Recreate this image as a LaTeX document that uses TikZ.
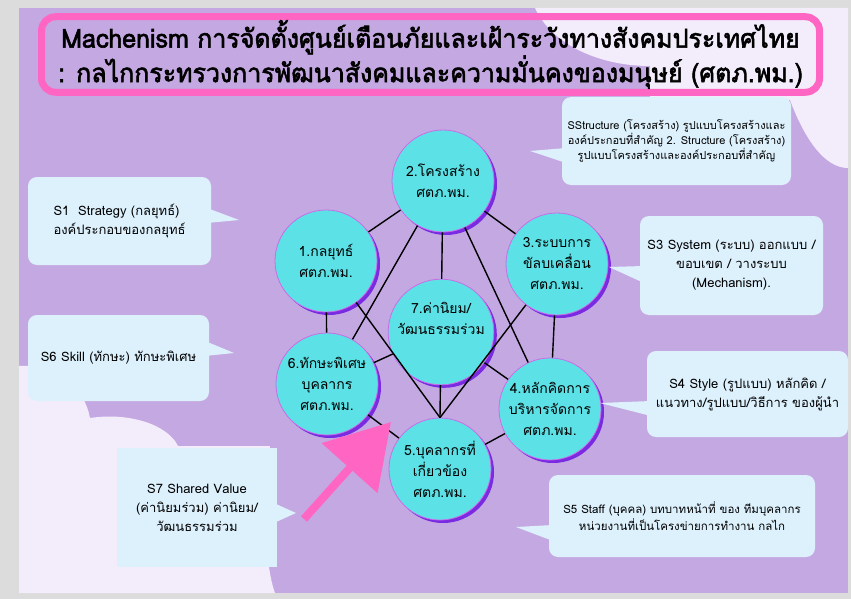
\documentclass[tikz,border=0pt]{standalone}
\usepackage{fontspec}
\newfontfamily\thaifont[Script=Thai]{Loma}
\newfontfamily\thaititle[Script=Thai,FakeStretch=0.96,FakeBold=2.2]{Loma}
\usetikzlibrary{shadows,arrows.meta}

\definecolor{framegray}{HTML}{DCDCDC}
\definecolor{bgpurple}{HTML}{C4A8E2}
\definecolor{bglight}{HTML}{F3ECFB}
\definecolor{notefill}{HTML}{DDF1FD}
\definecolor{hubcyan}{HTML}{5CE1E6}
\definecolor{hubrim}{HTML}{CB6CE6}
\definecolor{hubshade}{HTML}{7A2BE2}
\definecolor{hotpink}{HTML}{FF66C4}

\tikzset{
	hub/.style={circle, fill=hubcyan, draw=hubrim, line width=0.8pt, minimum size=102pt, inner sep=0pt,
		align=center, font=\thaifont\fontsize{14}{21}\selectfont,
		drop shadow={opacity=1, fill=hubshade, shadow xshift=3pt, shadow yshift=-3pt}},
	note/.style={fill=notefill, rounded corners=9pt, inner sep=0pt, align=center,
		font=\thaifont\fontsize{13}{19}\selectfont},
	link/.style={line width=1.4pt, black},
}

\begin{document}
\begin{tikzpicture}[x=1pt, y=-1pt]
	\useasboundingbox (0,0) rectangle (851,599);
	\fill[framegray] (0,0) rectangle (851,599);
	\fill[bgpurple] (19,8) rectangle (848,593);
	\fill[bglight] (535,8) .. controls (552,45) and (600,66) .. (650,66) -- (650,100) -- (790,100)
		.. controls (805,140) and (825,168) .. (848,168) -- (848,8) -- cycle;
	\fill[bglight] (19,366) .. controls (60,364) and (85,390) .. (90,418)
		.. controls (130,412) and (168,425) .. (178,446) -- (270,446) -- (268,560)
		.. controls (270,575) and (272,585) .. (275,593) -- (19,593) -- cycle;

	\node[draw=hotpink, line width=7pt, rounded corners=14pt, minimum width=778pt, minimum height=72pt,
		align=center, font=\thaititle\fontsize{26}{32}\selectfont] (title) at (430.5,54.5)
		{Machenism การจัดตั้งศูนย์เตือนภัยและเฝ้าระวังทางสังคมประเทศไทย\\
		: กลไกกระทรวงการพัฒนาสังคมและความมั่นคงของมนุษย์ (ศตภ.พม.)};

	\node[hub] (c2) at (443,181) {2.โครงสร้าง\\ศตภ.พม.};
	\node[hub] (c1) at (326,261) {1.กลยุทธ์\\ศตภ.พม.};
	\node[hub] (c3) at (557,264) {3.ระบบการ\\ขัลบเคลื่อน\\ศตภ.พม.};
	\node[hub] (c7) at (441,332) {7.ค่านิยม/\\วัฒนธรรมร่วม\\[6pt]};
	\node[hub] (c6) at (327,384) {6.ทักษะพิเศษ\\บุคลากร\\ศตภ.พม.};
	\node[hub] (c4) at (550,409) {4.หลักคิดการ\\บริหารจัดการ\\ศตภ.พม.};
	\node[hub] (c5) at (440,469) {5.บุคลากรที่\\เกี่ยวข้อง\\ศตภ.พม.};

	\draw[link] (c1) -- (c2);
	\draw[link] (c2) -- (c3);
	\draw[link] (c2) -- (c7);
	\draw[link] (c2) -- (c6);
	\draw[link] (c2) -- (c4);
	\draw[link] (c1) -- (c6);
	\draw[link] (c1) -- (c5.north);
	\draw[link] (c3) -- (c5.north);
	\draw[link] (c3) -- (c4);
	\draw[link] (c7) -- (c5.north);
	\draw[link] (c7) -- (c6);
	\draw[link] (c7) -- (c4);
	\draw[link] (c6) -- (c5);
	\draw[link] (c4) -- (c5);

	\node[note, minimum width=229pt, minimum height=88pt, font=\thaifont\fontsize{11}{15}\selectfont] (s2) at (676.5,141)
		{SStructure (โครงสร้าง) รูปแบบโครงสร้างและ\\องค์ประกอบที่สำคัญ 2. Structure (โครงสร้าง)\\รูปแบบโครงสร้างและองค์ประกอบที่สำคัญ};
	\coordinate (s2tip) at (530,151);
	\fill[notefill] (566,148) -- (s2tip) -- (566,163) -- cycle;

	\node[note, minimum width=183pt, minimum height=88pt, align=left] (s1) at (119.5,221)
		{S1~~Strategy (กลยุทธ์)\\องค์ประกอบของกลยุทธ์};
	\coordinate (s1tip) at (239,220);
	\fill[notefill] (207,208) -- (s1tip) -- (207,223) -- cycle;

	\node[note, minimum width=183pt, minimum height=99pt] (s3) at (731.5,265.5)
		{S3 System (ระบบ) ออกแบบ /\\ขอบเขต / วางระบบ\\(Mechanism).};
	\coordinate (s3tip) at (609,267);
	\fill[notefill] (644,266) -- (s3tip) -- (644,283) -- cycle;

	\node[note, minimum width=181pt, minimum height=86pt] (s6) at (118.5,358)
		{S6 Skill (ทักษะ) ทักษะพิเศษ};
	\coordinate (s6tip) at (234,353);
	\fill[notefill] (205,341) -- (s6tip) -- (205,356) -- cycle;

	\node[note, minimum width=201pt, minimum height=86pt] (s4) at (747.5,394)
		{S4 Style (รูปแบบ) หลักคิด /\\แนวทาง/รูปแบบ/วิธีการ ของผู้นำ};
	\coordinate (s4tip) at (600,403);
	\fill[notefill] (651,401) -- (s4tip) -- (651,416) -- cycle;

	\node[note, rounded corners=0pt, minimum width=160pt, minimum height=119pt] (s7) at (197,507.5)
		{S7 Shared Value\\(ค่านิยมร่วม) ค่านิยม/\\วัฒนธรรมร่วม};
	\coordinate (s7tip) at (296,513);
	\fill[notefill] (276,504) -- (s7tip) -- (276,522) -- cycle;

	\node[note, minimum width=266pt, minimum height=82pt, font=\thaifont\fontsize{11.5}{17}\selectfont] (s5) at (682,516)
		{S5 Staff (บุคคล) บทบาทหน้าที่ ของ ทีมบุคลากร\\หน่วยงานที่เป็นโครงข่ายการทำงาน กลไก};
	\coordinate (s5tip) at (516,527);
	\fill[notefill] (553,525) -- (s5tip) -- (553,541) -- cycle;

	\coordinate (atail) at (304,519);
	\coordinate (atip) at (391,422);
	\draw[hotpink, line width=8pt, -{Triangle[length=62pt, width=73pt]}] (atail) -- (atip);
\end{tikzpicture}
\end{document}
